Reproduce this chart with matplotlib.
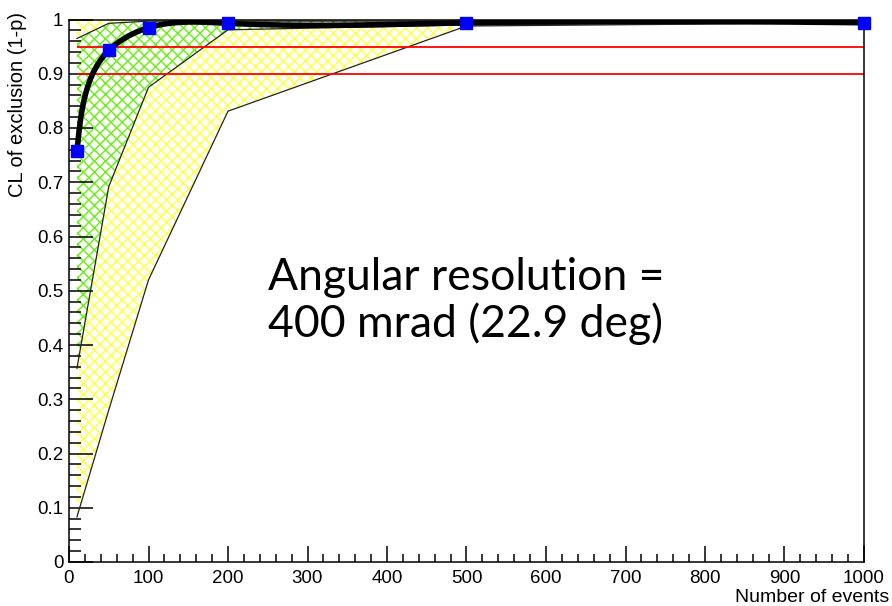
import numpy as np
import matplotlib.pyplot as plt
from matplotlib.ticker import MultipleLocator

# number of events and median CL of exclusion
n_events = [10, 50, 100, 200, 500, 1000]
cl_median = [0.757, 0.943, 0.985, 0.993, 0.994, 0.994]

# 1 sigma (green) and 2 sigma (yellow) bands
green_lo = [0.357, 0.692, 0.875, 0.981, 0.990, 0.994]
green_hi = [0.965, 0.993, 0.997, 0.997, 0.997, 0.997]
yellow_lo = [0.083, 0.280, 0.520, 0.831, 0.988, 0.994]
yellow_hi = [0.999, 1.000, 1.000, 1.000, 1.000, 1.000]

cl_lines = [0.90, 0.95]
y_ticks = [0, 0.1, 0.2, 0.3, 0.4, 0.5, 0.6, 0.7, 0.8, 0.9, 1.0]
y_ticklabels = ['0', '0.1', '0.2', '0.3', '0.4', '0.5', '0.6', '0.7', '0.8', '0.9', '1']


def natural_spline(t, y, ts):
    t = np.asarray(t, float)
    y = np.asarray(y, float)
    n = len(t)
    h = np.diff(t)
    A = np.zeros((n, n))
    b = np.zeros(n)
    A[0, 0] = A[-1, -1] = 1
    for i in range(1, n - 1):
        A[i, i - 1] = h[i - 1]
        A[i, i] = 2 * (h[i - 1] + h[i])
        A[i, i + 1] = h[i]
        b[i] = 6 * ((y[i + 1] - y[i]) / h[i] - (y[i] - y[i - 1]) / h[i - 1])
    M = np.linalg.solve(A, b)
    k = np.clip(np.searchsorted(t, ts) - 1, 0, n - 2)
    t0 = t[k + 1] - ts
    t1 = ts - t[k]
    hk = h[k]
    return (M[k] * t0**3 / (6 * hk) + M[k + 1] * t1**3 / (6 * hk)
            + (y[k] / hk - M[k] * hk / 6) * t0
            + (y[k + 1] / hk - M[k + 1] * hk / 6) * t1)


def smooth_curve(ax, x, y, npts=1500):
    # parametric spline, chord length measured in display pixels
    pix = ax.transData.transform(np.column_stack([x, y]))
    s = np.concatenate([[0], np.cumsum(np.hypot(*np.diff(pix, axis=0).T))])
    ss = np.linspace(0, s[-1], npts)
    px = natural_spline(s, pix[:, 0], ss)
    py = natural_spline(s, pix[:, 1], ss)
    return ax.transData.inverted().transform(np.column_stack([px, py])).T


plt.rcParams['font.family'] = ['Liberation Sans', 'DejaVu Sans']
plt.rcParams['hatch.linewidth'] = 1.0

fig = plt.figure(figsize=(8.92, 6.06), dpi=100)
ax = fig.add_axes([69 / 892, 44 / 606, 795 / 892, 542.5 / 606])
ax.set_xlim(0, 1000)
ax.set_ylim(0, 1)

ax.fill_between(n_events, yellow_lo, yellow_hi, facecolor='none',
                edgecolor='#ffff40', hatch='xxx', linewidth=0)
ax.fill_between(n_events, green_lo, green_hi, facecolor='none',
                edgecolor='#66ee33', hatch='xxx', linewidth=0)
for edge in (yellow_lo, green_lo, green_hi):
    ax.plot(n_events, edge, color='#222222', lw=0.9)

ax.hlines(cl_lines, n_events[0], n_events[-1], color='red', lw=1.3)

cx, cy = smooth_curve(ax, n_events, cl_median)
ax.plot(cx, cy, color='black', lw=4, solid_capstyle='butt')
ax.plot(n_events, cl_median, 's', color='blue', ms=8.5, mec='blue',
        clip_on=False, zorder=5)

ax.xaxis.set_major_locator(MultipleLocator(100))
ax.xaxis.set_minor_locator(MultipleLocator(20))
ax.set_yticks(y_ticks)
ax.set_yticklabels(y_ticklabels)
ax.yaxis.set_minor_locator(MultipleLocator(0.02))
ax.tick_params(axis='both', which='both', direction='in', width=1.1,
               labelsize=13.5, colors='black')
ax.tick_params(axis='y', which='major', length=17, pad=4)
ax.tick_params(axis='y', which='minor', length=8.5)
ax.tick_params(axis='x', which='major', length=11.5, pad=6)
ax.tick_params(axis='x', which='minor', length=5.8)
for s in ax.spines.values():
    s.set_linewidth(1.1)

fig.text(889 / 892, 0, 'Number of events', ha='right', va='bottom',
         fontsize=14)
fig.text(18 / 892, 1 - 12 / 606, 'CL of exclusion (1-p)', rotation=90,
         ha='center', va='top', fontsize=14.5)

fig.text(268 / 892, 1 - 290 / 606, 'Angular resolution =', family='Lato',
         fontsize=32, ha='left', va='baseline')
fig.text(268 / 892, 1 - 337 / 606, '400 mrad (22.9 deg)', family='Lato',
         fontsize=32, ha='left', va='baseline')

fig.savefig('out.png', dpi=100)
